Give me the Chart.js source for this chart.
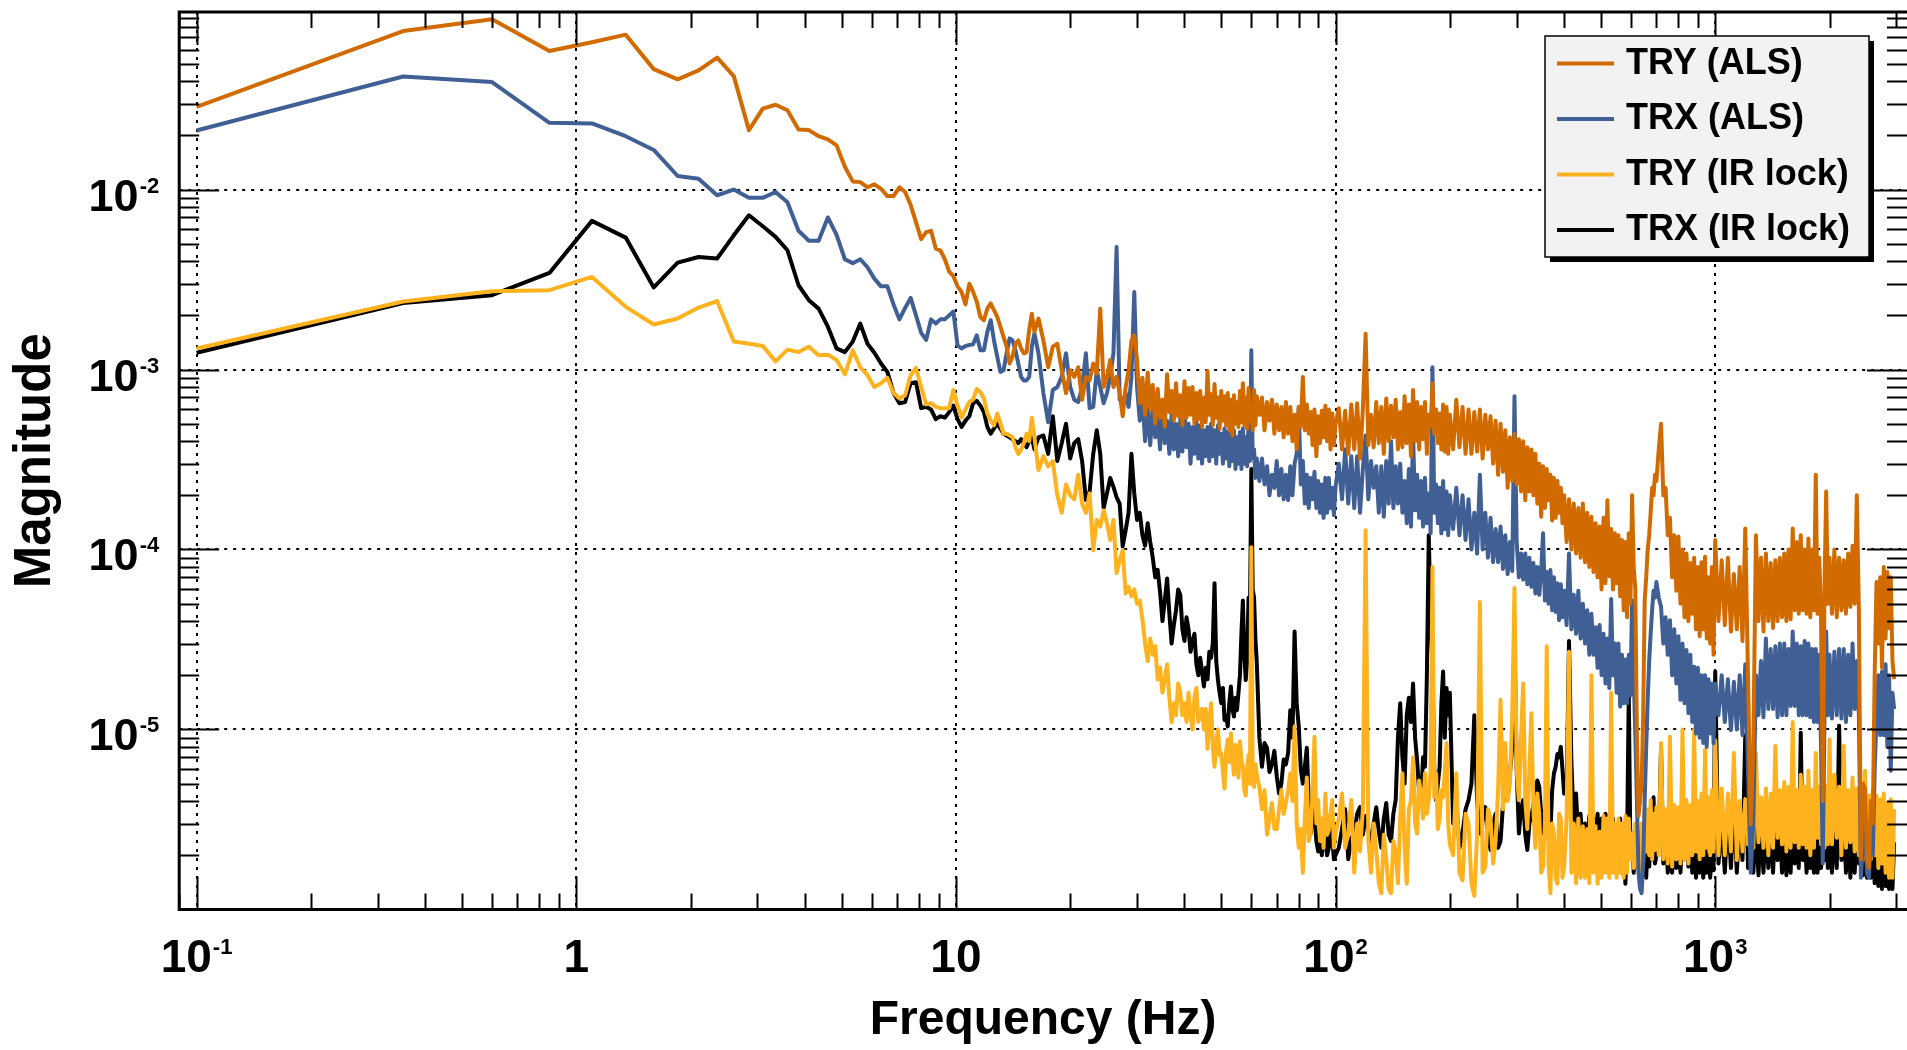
<!DOCTYPE html>
<html>
<head>
<meta charset="utf-8">
<title>TRX / TRY transmission spectra</title>
<script src="https://cdn.jsdelivr.net/npm/chart.js@4.4.1/dist/chart.umd.min.js"></script>
<style>
  html, body { margin: 0; padding: 0; background: #fff; }
  #wrap { width: 1907px; height: 1050px; position: relative; }
</style>
</head>
<body>
<div id="wrap"><canvas id="chartSpec"></canvas></div>
<script>
// 1. DATA
const freqHz = [
  0.1, 0.35, 0.6, 0.85, 1.1, 1.35, 1.6, 1.85, 2.1, 2.35, 2.6, 2.85, 3.1, 3.35, 3.6, 3.85, 4.1, 4.35, 4.6, 4.85,
  5.1, 5.35, 5.6, 5.85, 6.1, 6.35, 6.6, 6.85, 7.1, 7.35, 7.6, 7.85, 8.1, 8.35, 8.6, 8.85, 9.1, 9.35, 9.6, 9.85, 10.1, 10.35, 10.6, 10.85, 11.1,
  11.35, 11.6, 11.85, 12.1, 12.35, 12.6, 12.85, 13.1, 13.35, 13.6, 13.85, 14.1, 14.35, 14.6, 14.85, 15.1, 15.35, 15.6, 15.85, 16.1,
  16.5, 17, 17.5, 18, 18.5, 19, 19.5, 20, 20.5, 21, 21.5, 22, 22.5, 23, 23.5, 24, 24.5, 25, 25.5, 26, 26.5, 27, 27.5, 28, 28.5, 29, 29.5, 30,
  30.5, 31, 31.5, 32, 32.5, 33, 33.5, 34, 34.5, 35,
  35.5, 36, 36.5, 37, 37.5, 38, 38.5, 39, 39.5, 40,
  40.5, 41, 41.5, 42, 42.5, 43, 43.5, 44, 44.5, 45,
  45.5, 46, 46.5, 47, 47.5, 48, 48.5, 49, 49.5, 50,
  50.5, 51, 51.5, 52, 52.5, 53, 53.5, 54, 54.5, 55,
  55.5, 56, 56.5, 57, 57.5, 58, 58.5, 59, 59.5, 60,
  60.5, 61, 61.5, 62,
  63, 64, 65, 66, 67, 68, 69, 70, 71, 72,
  73, 74, 75, 76, 77, 78, 79, 80, 81, 82,
  83, 84, 85, 86, 87, 88, 89, 90, 91, 92,
  93, 94, 95, 96, 97, 98, 99, 100,
  102, 104, 106, 108, 110, 112, 114, 116, 118, 120,
  122, 124, 126, 128, 130, 132, 134, 136, 138, 140,
  142, 144, 146, 148, 150, 152, 154, 156, 158, 160,
  162, 164, 166, 168, 170, 172, 174, 176, 178, 180,
  182, 184, 186, 188, 190, 192, 194, 196, 198, 200,
  204, 208, 212, 216, 220, 224, 228, 232, 236, 240,
  244, 248, 252, 256, 260, 264, 268, 272, 276, 280,
  284, 288, 292, 296, 300, 304, 308, 312, 316, 320,
  324, 328, 332, 336, 340, 344, 348, 352, 356, 360,
  364, 368, 372, 376, 380, 384, 388, 392, 396, 400,
  406, 412, 418, 424, 430, 436, 442, 448, 454, 460,
  466, 472, 478, 484, 490, 496, 502, 508, 514, 520,
  526, 532, 538, 544, 550, 556, 562, 568, 574, 580,
  586, 592, 598, 604, 610, 616, 622, 628, 634, 640,
  646, 652, 658, 664, 670, 676, 682, 688, 694, 700,
  710, 720, 730, 740, 750, 760, 770, 780, 790, 800,
  810, 820, 830, 840, 850, 860, 870, 880, 890, 900,
  910, 920, 930, 940, 950, 960, 970, 980, 990, 1000,
  1020, 1040, 1060, 1080, 1100, 1120, 1140, 1160, 1180, 1200,
  1220, 1240, 1260, 1280, 1300, 1320, 1340, 1360, 1380, 1400,
  1420, 1440, 1460, 1480, 1500, 1520, 1540, 1560, 1580, 1600,
  1620, 1640, 1660, 1680, 1700, 1720, 1740, 1760, 1780, 1800,
  1820, 1840, 1860, 1880, 1900, 1920, 1940, 1960, 1980, 2000,
  2030, 2060, 2090, 2120, 2150, 2180, 2210, 2240, 2270, 2300,
  2330, 2360, 2390, 2420, 2450, 2480, 2510, 2540, 2570, 2600,
  2630, 2660, 2690, 2720, 2750, 2780, 2810, 2840, 2870, 2900,
  2930, 2960
];

const tryAls = [
  0.0288, 0.076, 0.0883, 0.0589, 0.0659, 0.0726, 0.0467, 0.041, 0.046, 0.0541, 0.0427, 0.0214, 0.0282, 0.0296, 0.0276, 0.0216, 0.0214, 0.0198, 0.019, 0.0176,
  0.0134, 0.0111, 0.011, 0.0103, 0.0107, 0.0101, 0.0092, 0.0092, 0.0103, 0.0097, 0.0082, 0.0066, 0.0053, 0.0058, 0.0059, 0.0047, 0.0046, 0.0041, 0.0035, 0.0033, 0.0029, 0.0027, 0.0023, 0.003, 0.0027,
  2.38e-3, 1.96e-3, 1.88e-3, 2.18e-3, 2.33e-3, 2.14e-3, 1.96e-3, 1.73e-3, 1.52e-3, 1.34e-3, 1.08e-3, 1.18e-3, 1.39e-3, 1.45e-3, 1.31e-3, 1.23e-3, 1.25e-3, 1.66e-3, 2.04e-3, 1.62e-3,
  1.92e-3, 1.45e-3, 1.03e-3, 1.34e-3, 1.39e-3, 9.9e-4, 7.4e-4, 9.9e-4, 9.1e-4, 1.03e-3, 6.8e-4, 9.1e-4, 8.7e-4, 1.08e-3, 9.5e-4, 2.18e-3, 8.0e-4, 9.1e-4, 1.13e-3, 8.0e-4, 9.1e-4, 7.4e-4, 5.5e-4, 8.0e-4, 9.9e-4, 1.45e-3, 1.55e-3, 1.13e-3,
  6.5e-4, 9.0e-4, 5.6e-4, 9.6e-4, 6.0e-4, 8.2e-4, 5.0e-4, 7.8e-4, 5.4e-4, 6.8e-4,
  4.8e-4, 9.4e-4, 5.8e-4, 7.6e-4, 5.2e-4, 8.4e-4, 5.5e-4, 7.2e-4, 4.9e-4, 8.6e-4,
  5.4e-4, 7.9e-4, 5.6e-4, 8.0e-4, 5.0e-4, 7.4e-4, 5.3e-4, 7.6e-4, 4.8e-4, 7.0e-4,
  5.1e-4, 9.8e-4, 5.6e-4, 7.3e-4, 4.9e-4, 8.3e-4, 5.4e-4, 7.0e-4, 4.7e-4, 7.6e-4,
  5.2e-4, 7.1e-4, 4.9e-4, 7.4e-4, 4.6e-4, 6.8e-4, 4.3e-4, 7.2e-4, 5.0e-4, 6.6e-4,
  4.8e-4, 7.6e-4, 5.1e-4, 8.4e-4, 4.9e-4, 7.0e-4, 4.7e-4, 7.9e-4, 5.2e-4, 6.4e-4,
  4.6e-4, 7.7e-4, 4.9e-4, 7.1e-4,
  5.6e-4, 7.0e-4, 4.6e-4, 6.6e-4, 5.2e-4, 6.8e-4, 4.4e-4, 6.4e-4, 4.6e-4, 6.2e-4,
  4.2e-4, 6.6e-4, 4.4e-4, 6.2e-4, 4.0e-4, 5.6e-4, 3.6e-4, 6.2e-4, 4.8e-4, 9.1e-4,
  4.6e-4, 6.4e-4, 4.4e-4, 5.8e-4, 3.8e-4, 6.0e-4, 3.3e-4, 5.5e-4, 3.9e-4, 5.9e-4,
  4.2e-4, 6.3e-4, 4.0e-4, 6.0e-4, 3.6e-4, 5.7e-4, 3.8e-4, 5.0e-4,
  6.1e-4, 3.6e-4, 5.9e-4, 3.4e-4, 6.4e-4, 3.6e-4, 6.5e-4, 3.2e-4, 6.0e-4, 1.58e-3,
  3.8e-4, 5.6e-4, 3.7e-4, 6.6e-4, 3.9e-4, 6.2e-4, 3.4e-4, 6.9e-4, 4.0e-4, 6.3e-4,
  4.2e-4, 6.8e-4, 3.6e-4, 5.8e-4, 3.7e-4, 7.1e-4, 3.9e-4, 6.4e-4, 3.3e-4, 7.7e-4,
  4.0e-4, 6.6e-4, 3.6e-4, 6.2e-4, 4.1e-4, 6.6e-4, 3.4e-4, 5.6e-4, 4.8e-4, 8.4e-4,
  4.4e-4, 6.0e-4, 3.9e-4, 5.7e-4, 3.6e-4, 6.4e-4, 3.5e-4, 6.2e-4, 3.4e-4, 5.6e-4,
  3.6e-4, 6.8e-4, 3.7e-4, 6.2e-4, 3.4e-4, 6.0e-4, 3.4e-4, 5.8e-4, 3.5e-4, 6.0e-4,
  3.2e-4, 5.6e-4, 3.6e-4, 5.5e-4, 3.0e-4, 5.2e-4, 2.6e-4, 5.0e-4, 2.7e-4, 4.6e-4,
  2.2e-4, 4.2e-4, 2.4e-4, 4.4e-4, 2.3e-4, 4.1e-4, 2.1e-4, 4.0e-4, 1.88e-4, 3.7e-4,
  2.1e-4, 3.6e-4, 2.0e-4, 3.4e-4, 1.8e-4, 3.0e-4, 1.52e-4, 2.9e-4, 1.7e-4, 2.8e-4,
  1.88e-4, 2.6e-4, 1.45e-4, 2.5e-4, 1.5e-4, 2.4e-4, 1.6e-4, 2.2e-4, 1.4e-4, 2.0e-4,
  1.1e-4, 1.9e-4, 1.0e-4, 1.8e-4, 9.5e-5, 1.7e-4, 9.0e-5, 1.8e-4, 8.5e-5, 1.6e-4,
  8.0e-5, 1.52e-4, 7.5e-5, 1.4e-4, 7.0e-5, 1.34e-4, 6.0e-5, 1.5e-4, 6.5e-5, 1.88e-4,
  7.1e-5, 1.3e-4, 6.0e-5, 1.23e-4, 6.5e-5, 1.2e-4, 5.5e-5, 1.13e-4, 4.6e-5, 1.1e-4,
  4.2e-5, 1.23e-4, 5.0e-5, 2.0e-4, 8.0e-5, 6.0e-5, 9.0e-6, 3.3e-6, 4.0e-6, 5.0e-6,
  1.2e-5, 5.2e-5, 7.0e-5, 1.0e-4, 1.2e-4, 1.6e-4, 2.2e-4, 2.0e-4, 2.6e-4, 2.4e-4,
  3.6e-4, 5.0e-4, 2.0e-4, 2.2e-4, 1.2e-4, 1.5e-4, 7.0e-5, 1.2e-4, 5.9e-5, 1.18e-4,
  5.0e-5, 1.0e-4, 4.2e-5, 9.5e-5, 4.0e-5, 8.4e-5, 4.4e-5, 9.0e-5, 3.6e-5, 8.0e-5,
  3.3e-5, 8.5e-5, 3.6e-5, 9.1e-5, 3.2e-5, 7.0e-5, 3.0e-5, 8.0e-5, 2.6e-5, 1.13e-4,
  4.0e-5, 8.7e-5, 3.8e-5, 9.0e-5, 3.5e-5, 7.3e-5, 3.6e-5, 8.0e-5, 3.1e-5, 1.31e-4,
  2.0e-5, 2.96e-6, 8.0e-6, 1.2e-4, 4.0e-5, 9.0e-5, 3.5e-5, 9.5e-5, 4.0e-5, 8.4e-5,
  3.66e-5, 8.7e-5, 4.0e-5, 9.0e-5, 4.2e-5, 9.5e-5, 4.0e-5, 1.0e-4, 4.1e-5, 1.31e-4,
  4.6e-5, 1.1e-4, 4.4e-5, 1.2e-4, 4.6e-5, 1.0e-4, 4.4e-5, 1.15e-4, 4.2e-5, 1.0e-4,
  4.6e-5, 2.6e-4, 4.4e-5, 9.0e-5, 4.2e-5, 4.0e-6, 6.0e-5, 2.1e-4, 5.0e-5, 9.0e-5,
  4.4e-5, 1.0e-4, 4.2e-5, 9.0e-5, 4.6e-5, 8.7e-5, 4.4e-5, 9.5e-5, 4.8e-5, 1.05e-4,
  5.0e-5, 2.0e-4, 4.6e-5, 1.9e-6, 5.0e-6, 4.7e-6, 2.0e-6, 1.7e-6, 4.0e-6, 3.0e-6,
  2.0e-5, 6.6e-5, 3.0e-5, 7.0e-5, 2.2e-5, 8.0e-5, 3.2e-5, 7.5e-5, 3.66e-5, 7.0e-5,
  2.4e-5, 1.9e-5
];

const trxAls = [
  0.0213, 0.0425, 0.0396, 0.0235, 0.0233, 0.0198, 0.0166, 0.0119, 0.0115, 0.0093, 0.01, 0.009, 0.009, 0.0097, 0.0085, 0.0059, 0.0052, 0.0052, 0.007, 0.0056,
  0.0041, 0.0039, 0.0041, 0.0037, 0.0032, 0.0029, 0.0029, 0.0023, 0.0019, 0.0022, 0.0025, 0.002, 0.0016, 0.00146, 0.0019, 0.0018, 0.0019, 0.0019, 0.002, 0.0021, 0.00136, 0.00131, 0.00135, 0.00137, 0.00138,
  1.55e-3, 1.28e-3, 1.28e-3, 1.62e-3, 1.88e-3, 1.45e-3, 1.18e-3, 9.7e-4, 9.9e-4, 1.23e-3, 1.49e-3, 1.45e-3, 1.28e-3, 1.08e-3, 9.1e-4, 8.7e-4, 8.7e-4, 9.1e-4, 1.34e-3, 1.59e-3,
  1.23e-3, 7.4e-4, 5.1e-4, 7.7e-4, 8.0e-4, 9.1e-4, 1.23e-3, 8.0e-4, 6.8e-4, 6.6e-4, 8.0e-4, 1.23e-3, 6.1e-4, 6.2e-4, 9.9e-4, 8.0e-4, 6.5e-4, 7.4e-4, 9.1e-4, 1.23e-3, 4.8e-3, 6.8e-4, 6.6e-4, 7.4e-4, 6.2e-4, 9.1e-4, 2.7e-3, 8.0e-4,
  5.2e-4, 7.0e-4, 4.0e-4, 6.2e-4, 3.8e-4, 6.0e-4, 4.2e-4, 5.4e-4, 3.6e-4, 6.4e-4,
  3.9e-4, 5.2e-4, 3.4e-4, 5.6e-4, 3.6e-4, 5.0e-4, 3.3e-4, 5.3e-4, 3.5e-4, 6.0e-4,
  3.7e-4, 5.0e-4, 3.0e-4, 4.8e-4, 3.4e-4, 5.1e-4, 3.2e-4, 4.9e-4, 3.0e-4, 4.6e-4,
  3.3e-4, 4.8e-4, 3.1e-4, 5.0e-4, 3.3e-4, 4.6e-4, 3.0e-4, 4.9e-4, 3.4e-4, 4.4e-4,
  3.0e-4, 4.7e-4, 3.2e-4, 4.5e-4, 2.9e-4, 4.4e-4, 3.1e-4, 4.6e-4, 2.8e-4, 4.2e-4,
  3.0e-4, 4.5e-4, 2.8e-4, 4.7e-4, 3.0e-4, 4.2e-4, 2.9e-4, 5.2e-4, 3.1e-4, 1.28e-3,
  3.2e-4, 3.6e-4, 2.5e-4, 3.2e-4,
  2.4e-4, 3.2e-4, 2.3e-4, 2.9e-4, 2.0e-4, 2.6e-4, 2.2e-4, 3.1e-4, 2.0e-4, 2.8e-4,
  1.9e-4, 2.6e-4, 1.88e-4, 2.9e-4, 2.0e-4, 3.0e-4, 3.4e-4, 6.2e-4, 2.3e-4, 3.1e-4,
  1.8e-4, 2.6e-4, 1.7e-4, 2.5e-4, 1.9e-4, 2.7e-4, 1.7e-4, 2.4e-4, 1.6e-4, 2.3e-4,
  1.5e-4, 2.5e-4, 1.6e-4, 2.5e-4, 1.7e-4, 2.2e-4, 1.55e-4, 2.23e-4,
  3.0e-4, 1.9e-4, 3.6e-4, 1.8e-4, 3.3e-4, 1.7e-4, 3.3e-4, 1.6e-4, 2.8e-4, 4.3e-4,
  1.9e-4, 3.1e-4, 2.2e-4, 2.9e-4, 1.6e-4, 2.9e-4, 1.52e-4, 3.1e-4, 1.8e-4, 4.0e-4,
  1.7e-4, 2.9e-4, 1.8e-4, 3.0e-4, 1.6e-4, 2.4e-4, 1.4e-4, 2.8e-4, 1.34e-4, 4.4e-4,
  1.65e-4, 2.6e-4, 1.5e-4, 2.4e-4, 1.34e-4, 2.5e-4, 1.4e-4, 2.05e-4, 1.23e-4, 1.03e-3,
  1.6e-4, 2.3e-4, 1.4e-4, 2.2e-4, 1.23e-4, 2.4e-4, 1.3e-4, 2.1e-4, 1.2e-4, 2.0e-4,
  1.3e-4, 2.2e-4, 1.2e-4, 2.0e-4, 1.13e-4, 1.9e-4, 1.0e-4, 1.6e-4, 9.5e-5, 2.6e-4,
  1.0e-4, 1.6e-4, 9.0e-5, 1.5e-4, 8.5e-5, 1.3e-4, 8.5e-5, 1.34e-4, 7.8e-5, 1.2e-4,
  7.3e-5, 1.1e-4, 7.6e-5, 7.1e-4, 1.1e-4, 7.0e-5, 9.5e-5, 6.8e-5, 9.5e-5, 6.4e-5,
  9.0e-5, 6.2e-5, 8.4e-5, 5.7e-5, 8.0e-5, 5.6e-5, 7.6e-5, 1.23e-4, 5.2e-5, 7.5e-5,
  5.0e-5, 7.7e-5, 4.6e-5, 7.0e-5, 4.5e-5, 6.5e-5, 4.05e-5, 6.4e-5, 4.2e-5, 5.9e-5,
  3.8e-5, 9.5e-5, 3.6e-5, 5.6e-5, 3.4e-5, 5.9e-5, 3.2e-5, 5.0e-5, 3.0e-5, 4.6e-5,
  2.6e-5, 4.4e-5, 2.6e-5, 3.7e-5, 2.2e-5, 3.8e-5, 2.0e-5, 3.4e-5, 1.8e-5, 3.2e-5,
  1.7e-5, 5.3e-5, 2.0e-5, 3.0e-5, 1.6e-5, 3.0e-5, 1.34e-5, 2.6e-5, 1.4e-5, 2.45e-5,
  1.4e-5, 2.6e-5, 1.55e-5, 5.2e-5, 2.0e-5, 9.5e-6, 4.0e-6, 1.6e-6, 1.3e-6, 1.23e-6,
  1.8e-6, 4.05e-6, 8.0e-6, 1.46e-5, 2.4e-5, 3.4e-5, 4.6e-5, 5.9e-5, 5.4e-5, 6.6e-5,
  5.4e-5, 4.8e-5, 3.0e-5, 4.2e-5, 2.6e-5, 4.05e-5, 2.0e-5, 3.6e-5, 1.8e-5, 3.3e-5,
  1.46e-5, 3.0e-5, 1.4e-5, 2.76e-5, 1.23e-5, 2.6e-5, 1.1e-5, 2.23e-5, 9.5e-6, 2.2e-5,
  9.0e-6, 2.0e-5, 8.4e-6, 2.0e-5, 8.0e-6, 1.9e-5, 9.5e-6, 1.8e-5, 8.4e-6, 1.8e-5,
  1.2e-5, 2.0e-5, 1.1e-5, 1.9e-5, 9.9e-6, 1.84e-5, 1.0e-5, 2.0e-5, 9.3e-6, 2.3e-5,
  6.0e-6, 1.6e-6, 3.0e-6, 2.0e-5, 1.2e-5, 2.4e-5, 1.17e-5, 3.2e-5, 1.3e-5, 2.8e-5,
  1.3e-5, 2.9e-5, 1.17e-5, 3.0e-5, 1.2e-5, 3.0e-5, 1.2e-5, 2.8e-5, 1.35e-5, 3.5e-5,
  1.35e-5, 3.0e-5, 1.2e-5, 2.9e-5, 1.2e-5, 3.1e-5, 1.2e-5, 3.0e-5, 1.17e-5, 2.8e-5,
  1.1e-5, 2.8e-5, 1.1e-5, 2.6e-5, 8.0e-6, 1.8e-6, 1.2e-5, 3.5e-5, 1.2e-5, 2.6e-5,
  1.15e-5, 2.7e-5, 1.2e-5, 2.8e-5, 1.15e-5, 2.8e-5, 1.1e-5, 2.6e-5, 1.2e-5, 3.0e-5,
  1.3e-5, 2.4e-5, 1.2e-5, 1.5e-6, 2.4e-6, 3.0e-6, 1.6e-6, 1.5e-6, 2.6e-6, 2.0e-6,
  6.0e-6, 1.17e-5, 2.0e-5, 9.3e-6, 2.1e-5, 9.3e-6, 2.3e-5, 8.0e-6, 2.0e-5, 5.9e-6,
  1.6e-5, 1.3e-5
];

const tryIr = [
  0.00131, 0.00239, 0.00272, 0.00276, 0.00327, 0.00223, 0.00178, 0.00192, 0.00221, 0.0024, 0.00143, 0.00139, 0.00135, 0.00111, 0.00129, 0.00125, 0.00134, 0.0012, 0.00121, 0.00113,
  9.4e-4, 1.28e-3, 1.03e-3, 9.3e-4, 8.0e-4, 8.4e-4, 9.0e-4, 7.4e-4, 6.9e-4, 7.2e-4, 9.3e-4, 1.02e-3, 8.0e-4, 6.4e-4, 6.5e-4, 6.2e-4, 6.1e-4, 6.1e-4, 6.1e-4, 7.7e-4, 6.3e-4, 5.4e-4, 6.0e-4, 6.6e-4, 6.8e-4,
  7.8e-4, 7.5e-4, 6.9e-4, 5.7e-4, 5.2e-4, 4.9e-4, 5.7e-4, 5.0e-4, 4.4e-4, 4.4e-4, 4.3e-4, 4.2e-4, 3.7e-4, 3.4e-4, 3.6e-4, 3.9e-4, 4.4e-4, 4.0e-4, 5.4e-4, 4.2e-4,
  2.76e-4, 3.3e-4, 2.9e-4, 3.1e-4, 2.0e-4, 1.6e-4, 2.3e-4, 2.0e-4, 1.9e-4, 2.6e-4, 1.8e-4, 1.6e-4, 2.05e-4, 9.9e-5, 1.46e-4, 1.34e-4, 1.65e-4, 1.4e-4, 1.13e-4, 1.46e-4, 7.4e-5, 8.7e-5, 9.9e-5, 5.7e-5, 6.2e-5, 5.5e-5, 6.0e-5, 5.0e-5,
  5.2e-5, 4.1e-5, 3.0e-5, 2.4e-5, 3.2e-5, 2.6e-5, 2.9e-5, 1.9e-5, 2.2e-5, 1.6e-5,
  1.9e-5, 2.3e-5, 1.5e-5, 1.1e-5, 1.4e-5, 1.2e-5, 1.8e-5, 1.6e-5, 1.2e-5, 1.4e-5,
  1.1e-5, 1.6e-5, 1.2e-5, 1.0e-5, 1.5e-5, 1.7e-5, 1.1e-5, 1.2e-5, 1.3e-5, 1.0e-5,
  1.3e-5, 7.8e-6, 1.1e-5, 1.4e-5, 8.0e-6, 6.2e-6, 8.6e-6, 1.0e-5, 7.2e-6, 7.4e-6,
  5.8e-6, 4.7e-6, 7.6e-6, 8.8e-6, 6.6e-6, 9.5e-6, 7.0e-6, 5.6e-6, 8.2e-6, 7.2e-6,
  5.4e-6, 8.6e-6, 6.8e-6, 6.2e-6, 4.6e-6, 4.3e-6, 6.0e-6, 7.2e-6, 5.0e-6, 1.03e-4,
  5.0e-6, 4.8e-6, 6.4e-6, 5.6e-6,
  4.8e-6, 3.6e-6, 4.6e-6, 2.6e-6, 3.2e-6, 3.9e-6, 2.8e-6, 2.8e-6, 3.6e-6, 4.6e-6,
  3.4e-6, 3.9e-6, 4.6e-6, 5.7e-6, 4.0e-6, 1.04e-5, 3.0e-6, 2.2e-6, 2.8e-6, 1.6e-6,
  3.2e-6, 5.4e-6, 2.4e-6, 2.64e-6, 4.4e-6, 9.1e-6, 3.0e-6, 4.05e-6, 2.4e-6, 3.2e-6,
  2.2e-6, 4.4e-6, 2.6e-6, 2.75e-6, 3.4e-6, 4.05e-6, 2.2e-6, 2.64e-6,
  3.2e-6, 4.4e-6, 2.2e-6, 2.64e-6, 4.05e-6, 1.6e-6, 3.0e-6, 2.1e-6, 3.6e-6, 1.28e-4,
  2.4e-6, 1.6e-6, 3.0e-6, 2.14e-6, 1.4e-6, 1.23e-6, 2.6e-6, 1.9e-6, 1.3e-6, 1.23e-6,
  2.4e-6, 2.1e-6, 1.4e-6, 3.2e-6, 5.7e-6, 2.2e-6, 1.39e-6, 3.6e-6, 4.05e-6, 7.0e-6,
  3.0e-6, 2.64e-6, 5.2e-6, 4.4e-6, 3.2e-6, 5.7e-6, 3.4e-6, 4.05e-6, 6.0e-6, 8.0e-5,
  4.2e-6, 5.7e-6, 2.8e-6, 3.2e-6, 4.6e-6, 4.2e-6, 6.0e-6, 8.4e-6, 3.0e-6, 2.3e-6,
  2.0e-6, 5.7e-6, 1.6e-6, 1.45e-6, 3.4e-6, 3.0e-6, 1.4e-6, 1.19e-6, 2.6e-6, 5.1e-5,
  1.6e-6, 1.73e-6, 3.6e-6, 3.2e-6, 1.8e-6, 2.4e-6, 4.6e-6, 1.46e-5, 3.6e-6, 8.4e-6,
  4.0e-6, 5.0e-6, 1.2e-5, 6.1e-5, 6.0e-6, 4.05e-6, 9.0e-6, 1.8e-5, 4.0e-6, 2.8e-6,
  6.0e-6, 1.23e-5, 3.6e-6, 2.2e-6, 4.4e-6, 3.4e-6, 1.6e-6, 1.73e-6, 3.0e-6, 2.9e-5,
  1.8e-6, 1.23e-6, 3.0e-6, 2.64e-6, 1.5e-6, 1.39e-6, 3.4e-6, 3.2e-6, 1.5e-6, 1.73e-6,
  3.2e-6, 2.7e-5, 1.6e-6, 3.0e-6, 1.4e-6, 3.2e-6, 1.5e-6, 2.9e-6, 1.5e-6, 2.8e-6,
  1.4e-6, 2.0e-5, 1.6e-6, 2.9e-6, 1.39e-6, 2.7e-6, 1.5e-6, 3.3e-6, 1.6e-6, 3.2e-6,
  1.5e-6, 1.6e-5, 1.6e-6, 3.0e-6, 1.5e-6, 3.2e-6, 1.6e-6, 3.0e-6, 1.5e-6, 3.3e-6,
  1.6e-6, 3.2e-6, 1.9e-6, 2.64e-6, 1.7e-6, 3.0e-6, 1.73e-6, 2.64e-6, 1.6e-6, 3.0e-6,
  1.8e-6, 3.4e-6, 2.1e-6, 3.6e-6, 2.0e-6, 4.05e-6, 1.9e-6, 3.4e-6, 2.14e-6, 3.7e-6,
  2.0e-6, 8.4e-6, 1.9e-6, 3.6e-6, 1.8e-6, 9.1e-6, 1.73e-6, 3.8e-6, 1.9e-6, 3.7e-6,
  1.8e-6, 1.0e-5, 1.9e-6, 4.05e-6, 1.8e-6, 3.8e-6, 2.0e-6, 1.0e-5, 2.1e-6, 4.0e-6,
  1.9e-6, 4.4e-6, 2.0e-6, 7.7e-6, 2.2e-6, 4.2e-6, 2.0e-6, 4.6e-6, 2.1e-6, 8.7e-6,
  2.0e-6, 4.7e-6, 2.0e-6, 4.4e-6, 2.1e-6, 7.4e-6, 1.88e-6, 4.0e-6, 2.1e-6, 4.1e-6,
  2.3e-6, 4.4e-6, 2.2e-6, 7.4e-6, 2.36e-6, 4.2e-6, 2.2e-6, 4.7e-6, 2.0e-6, 4.4e-6,
  2.2e-6, 8.1e-6, 2.5e-6, 4.6e-6, 2.3e-6, 5.1e-6, 2.1e-6, 4.8e-6, 2.2e-6, 1.1e-5,
  2.36e-6, 4.6e-6, 2.2e-6, 5.6e-6, 2.3e-6, 4.8e-6, 2.2e-6, 5.9e-6, 2.0e-6, 4.6e-6,
  2.2e-6, 7.4e-6, 2.5e-6, 4.8e-6, 2.3e-6, 5.1e-6, 2.2e-6, 4.9e-6, 2.3e-6, 8.8e-6,
  2.3e-6, 5.6e-6, 2.5e-6, 4.8e-6, 2.0e-6, 8.1e-6, 2.2e-6, 4.6e-6, 2.36e-6, 5.4e-6,
  2.1e-6, 4.7e-6, 2.0e-6, 4.4e-6, 1.88e-6, 5.9e-6, 2.0e-6, 4.3e-6, 1.9e-6, 4.6e-6,
  2.0e-6, 4.3e-6, 1.7e-6, 4.1e-6, 1.8e-6, 4.4e-6, 1.6e-6, 3.9e-6, 1.5e-6, 4.1e-6,
  1.5e-6, 3.6e-6
];

const trxIr = [
  0.00124, 0.00234, 0.00259, 0.00344, 0.0067, 0.00541, 0.00286, 0.00393, 0.00422, 0.00414, 0.00557, 0.0072, 0.00625, 0.00546, 0.0046, 0.00294, 0.00243, 0.00218, 0.00173, 0.00131,
  0.00125, 0.00143, 0.0018, 0.00139, 0.00124, 0.00108, 9.7e-4, 7.4e-4, 6.5e-4, 6.6e-4, 8.4e-4, 8.5e-4, 6.1e-4, 6.2e-4, 6.0e-4, 5.3e-4, 5.5e-4, 5.4e-4, 5.8e-4, 6.3e-4, 5.3e-4, 4.8e-4, 5.2e-4, 5.5e-4, 6.5e-4,
  6.7e-4, 6.3e-4, 5.8e-4, 4.8e-4, 4.4e-4, 4.7e-4, 5.0e-4, 4.7e-4, 4.4e-4, 4.3e-4, 4.2e-4, 4.1e-4, 4.0e-4, 3.9e-4, 4.1e-4, 3.9e-4, 3.7e-4, 4.0e-4, 4.2e-4, 3.6e-4,
  4.2e-4, 4.3e-4, 3.4e-4, 5.5e-4, 3.1e-4, 3.9e-4, 5.0e-4, 3.2e-4, 3.9e-4, 4.1e-4, 3.1e-4, 1.88e-4, 2.1e-4, 3.4e-4, 4.6e-4, 3.4e-4, 1.7e-4, 2.05e-4, 2.5e-4, 2.23e-4, 1.95e-4, 1.8e-4, 1.04e-4, 1.28e-4, 1.6e-4, 3.4e-4, 2.05e-4, 1.46e-4,
  1.6e-4, 1.2e-4, 1.05e-4, 1.4e-4, 1.1e-4, 9.0e-5, 7.0e-5, 7.7e-5, 5.8e-5, 4.0e-5,
  5.2e-5, 6.9e-5, 4.4e-5, 3.0e-5, 3.8e-5, 4.6e-5, 6.0e-5, 5.6e-5, 3.6e-5, 3.1e-5,
  4.2e-5, 3.6e-5, 2.7e-5, 3.1e-5, 3.4e-5, 2.3e-5, 2.0e-5, 2.5e-5, 2.1e-5, 1.73e-5,
  2.2e-5, 1.9e-5, 2.7e-5, 2.5e-5, 3.0e-5, 6.5e-5, 2.4e-5, 1.88e-5, 1.6e-5, 1.4e-5,
  1.7e-5, 1.13e-5, 1.2e-5, 1.04e-5, 1.4e-5, 1.73e-5, 1.3e-5, 1.18e-5, 1.5e-5, 1.28e-5,
  1.6e-5, 2.0e-5, 3.4e-5, 5.2e-5, 2.6e-5, 1.88e-5, 2.4e-5, 5.4e-5, 4.2e-5, 2.8e-4,
  6.0e-5, 5.4e-5, 3.2e-5, 2.4e-5,
  9.0e-6, 6.2e-6, 8.4e-6, 7.9e-6, 5.8e-6, 6.4e-6, 7.6e-6, 5.5e-6, 4.4e-6, 5.0e-6,
  6.8e-6, 6.4e-6, 7.4e-6, 1.28e-5, 9.0e-6, 3.5e-5, 1.4e-5, 1.04e-5, 6.0e-6, 5.0e-6,
  6.2e-6, 7.9e-6, 4.0e-6, 2.64e-6, 3.6e-6, 3.3e-6, 2.4e-6, 2.1e-6, 2.6e-6, 2.0e-6,
  2.5e-6, 2.64e-6, 2.0e-6, 2.2e-6, 2.8e-6, 2.5e-6, 1.9e-6, 2.0e-6,
  2.2e-6, 2.8e-6, 3.6e-6, 1.9e-6, 2.5e-6, 2.64e-6, 3.4e-6, 3.7e-6, 2.6e-6, 3.3e-6,
  2.8e-6, 2.1e-6, 3.0e-6, 3.7e-6, 2.7e-6, 2.2e-6, 3.2e-6, 3.9e-6, 2.6e-6, 2.4e-6,
  3.4e-6, 4.05e-6, 9.0e-6, 1.4e-5, 7.0e-6, 5.0e-6, 1.2e-5, 1.5e-5, 1.1e-5, 1.8e-5,
  9.0e-6, 6.7e-6, 4.5e-6, 4.05e-6, 7.0e-6, 6.2e-6, 2.0e-5, 1.2e-4, 4.0e-5, 2.23e-5,
  6.0e-6, 4.05e-6, 5.0e-6, 6.2e-6, 1.4e-5, 2.1e-5, 9.0e-6, 1.7e-5, 1.2e-5, 1.6e-5,
  3.0e-6, 4.05e-6, 2.2e-6, 2.64e-6, 3.6e-6, 4.05e-6, 5.0e-6, 1.2e-5, 4.0e-6, 2.64e-6,
  3.2e-6, 3.7e-6, 2.5e-6, 2.14e-6, 3.0e-6, 3.4e-6, 2.2e-6, 2.4e-6, 3.8e-6, 5.0e-6,
  4.2e-6, 5.7e-6, 8.0e-6, 3.4e-5, 6.0e-6, 2.64e-6, 3.6e-6, 4.05e-6, 2.6e-6, 2.14e-6,
  3.0e-6, 3.3e-6, 3.8e-6, 4.4e-6, 5.2e-6, 4.8e-6, 3.4e-6, 2.64e-6, 3.0e-6, 4.05e-6,
  3.0e-6, 2.64e-6, 4.6e-6, 5.7e-6, 6.2e-6, 7.3e-6, 7.0e-6, 8.0e-6, 6.0e-6, 4.4e-6,
  4.4e-6, 3.1e-5, 6.7e-6, 3.0e-6, 4.4e-6, 2.4e-6, 3.4e-6, 2.2e-6, 3.0e-6, 2.0e-6,
  3.3e-6, 2.0e-6, 3.2e-6, 2.14e-6, 3.4e-6, 1.9e-6, 3.2e-6, 2.1e-6, 3.4e-6, 1.9e-6,
  2.8e-6, 1.8e-6, 3.2e-6, 1.73e-6, 2.8e-6, 1.7e-6, 3.2e-6, 1.6e-6, 2.6e-6, 1.39e-6,
  2.4e-6, 1.6e-5, 2.0e-6, 2.64e-6, 1.6e-6, 2.6e-6, 1.73e-6, 2.4e-6, 1.6e-6, 2.1e-6,
  1.6e-6, 2.14e-6, 1.5e-6, 2.4e-6, 1.73e-6, 2.6e-6, 1.9e-6, 4.2e-6, 1.8e-6, 2.0e-6,
  2.4e-6, 8.0e-6, 1.8e-6, 2.8e-6, 1.6e-6, 2.64e-6, 1.6e-6, 2.7e-6, 1.7e-6, 2.64e-6,
  1.6e-6, 2.6e-6, 1.9e-6, 2.8e-6, 1.73e-6, 2.6e-6, 1.6e-6, 2.64e-6, 1.5e-6, 2.5e-6,
  1.6e-6, 2.14e-6, 1.5e-6, 2.4e-6, 1.6e-6, 2.0e-6, 1.5e-6, 2.2e-6, 1.65e-6, 2.1e-5,
  1.8e-6, 2.96e-6, 1.6e-6, 3.4e-6, 1.7e-6, 3.7e-6, 1.6e-6, 3.2e-6, 1.88e-6, 9.3e-6,
  1.7e-6, 2.8e-6, 1.6e-6, 2.96e-6, 1.55e-6, 3.1e-6, 1.6e-6, 3.2e-6, 1.7e-6, 2.9e-6,
  1.6e-6, 2.96e-6, 1.88e-6, 3.0e-6, 1.6e-6, 3.1e-6, 1.55e-6, 3.3e-6, 1.6e-6, 3.6e-6,
  1.8e-6, 3.1e-6, 1.7e-6, 9.6e-6, 1.88e-6, 3.0e-6, 1.6e-6, 2.96e-6, 1.7e-6, 3.0e-6,
  1.6e-6, 3.2e-6, 1.6e-6, 3.0e-6, 1.7e-6, 2.96e-6, 1.88e-6, 3.0e-6, 1.7e-6, 3.1e-6,
  1.6e-6, 3.0e-6, 1.7e-6, 1.05e-5, 1.88e-6, 3.2e-6, 1.6e-6, 3.1e-6, 1.5e-6, 3.0e-6,
  1.6e-6, 2.96e-6, 1.8e-6, 3.0e-6, 1.55e-6, 2.96e-6, 1.5e-6, 3.2e-6, 1.5e-6, 2.96e-6,
  1.4e-6, 2.8e-6, 1.35e-6, 2.96e-6, 1.3e-6, 2.8e-6, 1.35e-6, 2.6e-6, 1.3e-6, 2.5e-6,
  1.3e-6, 2.36e-6
];

const seriesNames = ['TRY (ALS)', 'TRX (ALS)', 'TRY (IR lock)', 'TRX (IR lock)'];
const seriesColors = ['#d16b00', '#405f95', '#fdb21e', '#000000'];

// axis ticks and their labels (base, exponent)
const xMajor = [0.1, 1, 10, 100, 1000];
const xTickLabels = [['10', '-1'], ['1', ''], ['10', ''], ['10', '2'], ['10', '3']];
const yMajor = [1e-2, 1e-3, 1e-4, 1e-5];
const yTickLabels = [['10', '-2'], ['10', '-3'], ['10', '-4'], ['10', '-5']];

// 2. HELPERS
const FONT = "'Liberation Sans', Arial, Helvetica, sans-serif";
const toPoints = (vals) => freqHz.map((f, i) => ({ x: f, y: vals[i] }));
[tryAls, trxAls, tryIr, trxIr].forEach((s, i) => {
    if (s.length !== freqHz.length) console.warn(seriesNames[i], s.length, freqHz.length);
});

// minor tick positions: 1..9 x every decade inside the axis range
const decadeTicks = (min, max) => {
    const out = [];
    for (let e = Math.floor(Math.log10(min)); e <= Math.ceil(Math.log10(max)); e++) {
        for (let m = 1; m <= 9; m++) {
            const v = m * Math.pow(10, e);
            if (v >= min && v <= max) out.push({ v, major: m === 1 });
        }
    }
    return out;
};

const drawSupLabel = (ctx, base, sup, x, baseline, align, mainSize, supSize) => {
    ctx.font = `bold ${mainSize}px ${FONT}`;
    const wMain = ctx.measureText(base).width;
    ctx.font = `bold ${supSize}px ${FONT}`;
    const wSup = sup ? ctx.measureText(sup).width + 1 : 0;
    const total = wMain + wSup;
    const x0 = align === 'center' ? x - total / 2 : x - total;
    ctx.textAlign = 'left';
    ctx.textBaseline = 'alphabetic';
    ctx.font = `bold ${mainSize}px ${FONT}`;
    ctx.fillText(base, x0, baseline);
    if (sup) {
        ctx.font = `bold ${supSize}px ${FONT}`;
        ctx.fillText(sup, x0 + wMain + 1, baseline - 18);
    }
};

// 3. PLUGIN: matlab style axes (dotted grid, inward ticks, superscript labels) + boxed legend
const matlabAxes = {
    id: 'matlabAxes',
    beforeDatasetsDraw(chart) {
        const { ctx, chartArea: a, scales: { x, y } } = chart;
        ctx.save();
        ctx.strokeStyle = '#000';
        ctx.lineWidth = 2;
        ctx.setLineDash([3, 6]);
        xMajor.forEach(v => {
            const px = Math.round(x.getPixelForValue(v));
            ctx.beginPath(); ctx.moveTo(px, a.top); ctx.lineTo(px, a.bottom); ctx.stroke();
        });
        yMajor.forEach(v => {
            const py = Math.round(y.getPixelForValue(v));
            ctx.beginPath(); ctx.moveTo(a.left, py); ctx.lineTo(a.right, py); ctx.stroke();
        });
        ctx.restore();
    },
    afterDatasetsDraw(chart) {
        const { ctx, chartArea: a, scales: { x, y } } = chart;
        ctx.save();
        ctx.setLineDash([]);
        ctx.strokeStyle = '#000';
        ctx.fillStyle = '#000';

        // ticks
        ctx.lineWidth = 2;
        decadeTicks(x.min, x.max).forEach(t => {
            const px = Math.round(x.getPixelForValue(t.v)) + 0.5;
            const len = t.major ? 33 : 16;
            ctx.beginPath();
            ctx.moveTo(px, a.bottom); ctx.lineTo(px, a.bottom - len);
            ctx.moveTo(px, a.top); ctx.lineTo(px, a.top + len);
            ctx.stroke();
        });
        decadeTicks(y.min, y.max).forEach(t => {
            const py = Math.round(y.getPixelForValue(t.v)) + 0.5;
            const len = t.major ? 40 : 20;
            ctx.beginPath();
            ctx.moveTo(a.left, py); ctx.lineTo(a.left + len, py);
            ctx.moveTo(a.right, py); ctx.lineTo(a.right - len, py);
            ctx.stroke();
        });

        // frame (right edge lies outside the picture)
        ctx.lineWidth = 3;
        ctx.beginPath();
        ctx.moveTo(a.right, a.top); ctx.lineTo(a.left, a.top);
        ctx.lineTo(a.left, a.bottom); ctx.lineTo(a.right, a.bottom);
        ctx.stroke();

        // tick labels
        xMajor.forEach((v, i) => {
            const [b, s] = xTickLabels[i];
            drawSupLabel(ctx, b, s, x.getPixelForValue(v), a.bottom + 63, 'center', 46, 22);
        });
        yMajor.forEach((v, i) => {
            const [b, s] = yTickLabels[i];
            drawSupLabel(ctx, b, s, a.left - 20, y.getPixelForValue(v) + 21, 'right', 45, 22);
        });

        // legend box with drop shadow
        const lx = 1545, ly = 36, lw = 324, lh = 221;
        ctx.fillStyle = '#000';
        ctx.fillRect(lx + 5, ly + 5, lw, lh);
        ctx.fillStyle = '#f2f2f2';
        ctx.fillRect(lx, ly, lw, lh);
        ctx.lineWidth = 1.5;
        ctx.strokeRect(lx, ly, lw, lh);
        chart.data.datasets.forEach((ds, i) => {
            const cy = 63.5 + i * 55.5;
            ctx.strokeStyle = ds.borderColor;
            ctx.lineWidth = 4;
            ctx.beginPath(); ctx.moveTo(1557, cy); ctx.lineTo(1614, cy); ctx.stroke();
            ctx.fillStyle = '#000';
            ctx.font = `bold 36px ${FONT}`;
            ctx.textAlign = 'left';
            ctx.textBaseline = 'alphabetic';
            ctx.fillText(ds.label, 1626, cy + 10);
        });
        ctx.restore();
    }
};

// 4. CHART
const ctxSpec = document.getElementById('chartSpec');
new Chart(ctxSpec, {
    type: 'line',
    data: {
        datasets: [tryAls, trxAls, tryIr, trxIr].map((vals, i) => ({
            label: seriesNames[i],
            data: toPoints(vals),
            borderColor: seriesColors[i],
            backgroundColor: seriesColors[i],
            borderWidth: 4,
            borderJoinStyle: 'round',
            pointRadius: 0,
            tension: 0,
            fill: false
        }))
    },
    options: {
        responsive: true,
        maintainAspectRatio: false,
        animation: false,
        layout: { padding: { top: 12, right: 0, bottom: 0, left: 0 } },
        scales: {
            x: {
                type: 'logarithmic',
                min: 0.09,
                max: 3200,
                ticks: { display: false },
                grid: { display: false, drawTicks: false },
                border: { display: false },
                title: {
                    display: true,
                    text: 'Frequency (Hz)',
                    color: '#000',
                    font: { family: FONT, size: 48, weight: 'bold' },
                    padding: { top: 83, bottom: 0 }
                }
            },
            y: {
                type: 'logarithmic',
                min: 1e-6,
                max: 0.097,
                ticks: { display: false },
                grid: { display: false, drawTicks: false },
                border: { display: false },
                title: {
                    display: true,
                    text: 'Magnitude',
                    color: '#000',
                    font: { family: FONT, size: 51, weight: 'bold' },
                    padding: { top: 5, bottom: 113 }
                }
            }
        },
        plugins: {
            legend: { display: false },
            tooltip: { enabled: false }
        }
    },
    plugins: [matlabAxes]
});
</script>
</body>
</html>
